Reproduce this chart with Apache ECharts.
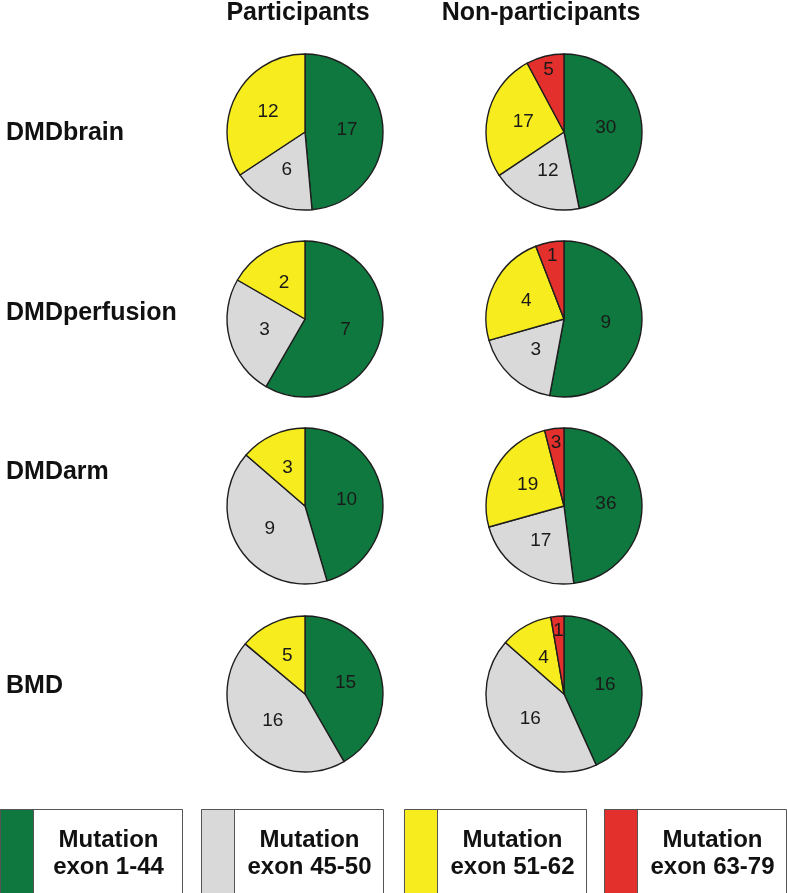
<!DOCTYPE html>
<html><head><meta charset="utf-8">
<script src="https://cdn.jsdelivr.net/npm/echarts@6/dist/echarts.min.js"></script>
<style>html,body{margin:0;padding:0;background:#fff}#c{width:787px;height:893px}</style>
</head><body><div id="c"></div>
<script>
const categories = ['Mutation exon 1-44', 'Mutation exon 45-50', 'Mutation exon 51-62', 'Mutation exon 63-79'];
const colors = ['#0e783e', '#d9d9d9', '#f7ec1e', '#e3302c'];
const groups = ['DMDbrain', 'DMDperfusion', 'DMDarm', 'BMD'];
const columns = ['Participants', 'Non-participants'];
const participants = {
  DMDbrain: [17, 6, 12, 0],
  DMDperfusion: [7, 3, 2, 0],
  DMDarm: [10, 9, 3, 0],
  BMD: [15, 16, 5, 0]
};
const nonParticipants = {
  DMDbrain: [30, 12, 17, 5],
  DMDperfusion: [9, 3, 4, 1],
  DMDarm: [36, 17, 19, 3],
  BMD: [16, 16, 4, 1]
};

const FONT = 'Liberation Sans, Arial, Helvetica, sans-serif';
const colX = [305, 564];
const rowY = [132, 319, 506, 694];
const R = 78;

const chart = echarts.init(document.getElementById('c'), null, {renderer: 'canvas'});
const series = [];
const tables = [participants, nonParticipants];

groups.forEach((g, ri) => {
  tables.forEach((tbl, ci) => {
    const data = tbl[g].map((v, k) => ({name: categories[k], value: v, k: k}))
      .filter(d => d.value > 0);
    const mk = (showFn) => data.map(d => ({
      name: d.name, value: d.value,
      itemStyle: {color: colors[d.k]},
      label: {show: showFn(d)}
    }));
    series.push({
      type: 'pie', center: [colX[ci], rowY[ri]], radius: R,
      startAngle: 90, clockwise: true, silent: true, animation: false,
      avoidLabelOverlap: false,
      itemStyle: {borderColor: '#1e1e1e', borderWidth: 1.4},
      label: {position: 'inner', formatter: '{c}', fontSize: 19, color: '#1a1a1a', fontFamily: FONT},
      labelLine: {show: false},
      emphasis: {disabled: true},
      data: mk(d => d.k !== 3)
    });
    // overlay ring only used to place labels of the thin red slices further out
    series.push({
      type: 'pie', center: [colX[ci], rowY[ri]], radius: [R * 0.56, R],
      startAngle: 90, clockwise: true, silent: true, animation: false,
      avoidLabelOverlap: false,
      itemStyle: {color: 'rgba(0,0,0,0)', borderWidth: 0},
      label: {position: 'inner', formatter: '{c}', fontSize: 19, color: '#1a1a1a', fontFamily: FONT},
      labelLine: {show: false},
      emphasis: {disabled: true},
      data: mk(d => d.k === 3).map(o => Object.assign(o, {itemStyle: {color: 'rgba(0,0,0,0)'}}))
    });
  });
});

const graphic = [];
const titleX = [298, 541];
columns.forEach((c, i) => {
  graphic.push({type: 'text', x: titleX[i], y: 13, silent: true,
    style: {text: c, font: 'bold 25px ' + FONT, fill: '#111', textAlign: 'center', textVerticalAlign: 'middle'}});
});
const labelY = [133, 313, 472, 686];
groups.forEach((g, i) => {
  graphic.push({type: 'text', x: 6, y: labelY[i], silent: true,
    style: {text: g, font: 'bold 25px ' + FONT, fill: '#111', textAlign: 'left', textVerticalAlign: 'middle'}});
});
const boxX = [0.5, 201.5, 404.5, 604.5];
categories.forEach((c, i) => {
  const x0 = boxX[i];
  graphic.push({type: 'rect', silent: true, shape: {x: x0, y: 809.5, width: 182, height: 84},
    style: {fill: '#fff', stroke: '#555', lineWidth: 1}});
  graphic.push({type: 'rect', silent: true, shape: {x: x0, y: 809.5, width: 33, height: 84},
    style: {fill: colors[i], stroke: '#555', lineWidth: 1}});
  const parts = c.split(' ');
  graphic.push({type: 'text', silent: true, x: x0 + 108, y: 840,
    style: {text: parts[0], font: 'bold 24px ' + FONT, fill: '#111', textAlign: 'center', textVerticalAlign: 'middle'}});
  graphic.push({type: 'text', silent: true, x: x0 + 108, y: 867,
    style: {text: parts.slice(1).join(' '), font: 'bold 24px ' + FONT, fill: '#111', textAlign: 'center', textVerticalAlign: 'middle'}});
});

chart.setOption({
  animation: false,
  backgroundColor: '#fff',
  series: series,
  graphic: graphic
});
</script>
</body></html>
